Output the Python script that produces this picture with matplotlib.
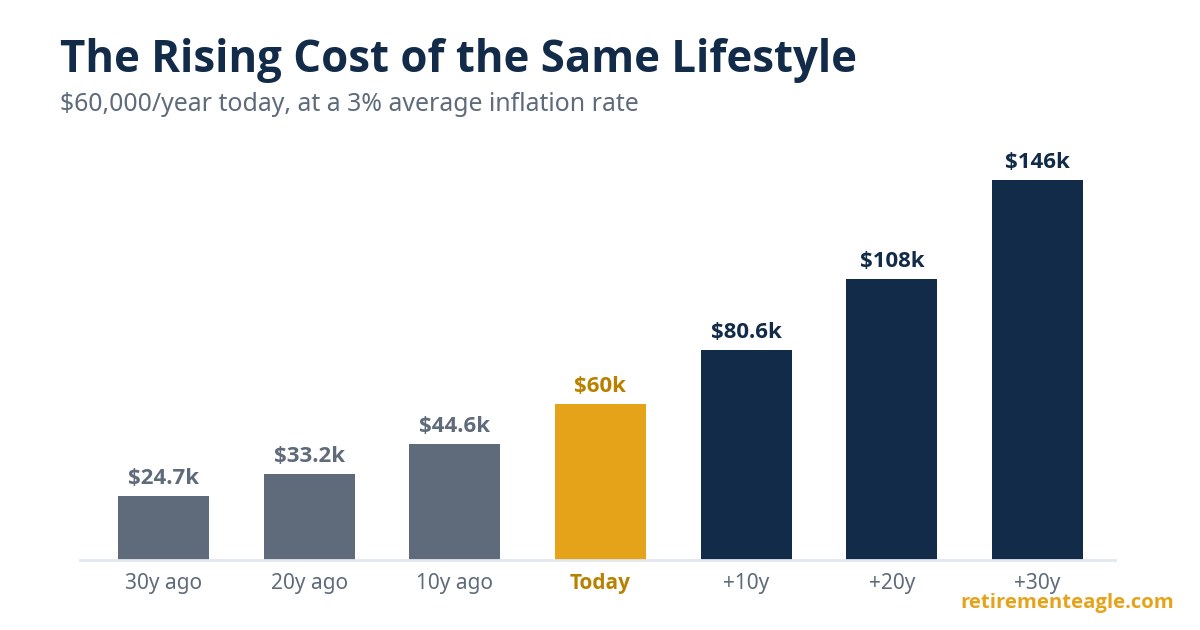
import matplotlib.pyplot as plt

plt.rcParams["font.family"] = ["Noto Sans", "DejaVu Sans"]

categories = ["30y ago", "20y ago", "10y ago", "Today", "+10y", "+20y", "+30y"]
values_k = [24.7, 33.2, 44.6, 60, 80.6, 108, 146]
value_labels = ["$24.7k", "$33.2k", "$44.6k", "$60k", "$80.6k", "$108k", "$146k"]

GRAY = "#5f6b7a"
GOLD = "#e5a31a"
GOLD_DARK = "#b88100"
NAVY = "#122b49"

# Noto Sans has no bold face here, Open Sans does
BOLD = ["Open Sans", "Noto Sans", "DejaVu Sans"]


def main():
    fig = plt.figure(figsize=(12, 6.3), dpi=100)
    ax = fig.add_axes([80 / 1200, 70 / 630, 1035 / 1200, 410 / 630])

    bar_colors = [GRAY, GRAY, GRAY, GOLD, NAVY, NAVY, NAVY]
    label_colors = [GRAY, GRAY, GRAY, GOLD_DARK, NAVY, NAVY, NAVY]
    x = range(len(categories))
    ax.bar(x, values_k, width=0.625, color=bar_colors, zorder=2)

    for i, (v, lab) in enumerate(zip(values_k, value_labels)):
        ax.annotate(lab, (i, v), xytext=(0, 5), textcoords="offset points",
                    ha="center", va="bottom", fontsize=16, fontweight="bold",
                    family=BOLD, color=label_colors[i])

    ax.set_xlim(-0.573, 6.532)
    ax.set_ylim(0, 157.5)
    ax.set_xticks(list(x))
    ax.set_xticklabels(categories, fontsize=15, color=GRAY)
    for i, t in enumerate(ax.get_xticklabels()):
        if categories[i] == "Today":
            t.set_color(GOLD_DARK)
            t.set_fontweight("bold")
            t.set_family(BOLD)
    ax.tick_params(axis="x", length=0, pad=9)
    ax.set_yticks([])
    for side in ["top", "right", "left"]:
        ax.spines[side].set_visible(False)
    ax.spines["bottom"].set_color("#e2e7f0")
    ax.spines["bottom"].set_linewidth(2)

    fig.text(60 / 1200, 1 - 72 / 630, "The Rising Cost of the Same Lifestyle",
             fontsize=31.5, fontweight="bold", family=BOLD, color=NAVY,
             ha="left", va="baseline")
    fig.text(60 / 1200, 1 - 111 / 630, "$60,000/year today, at a 3% average inflation rate",
             fontsize=17.9, color=GRAY, ha="left", va="baseline")
    fig.text(1174 / 1200, 1 - 608 / 630, "retirementeagle.com",
             fontsize=14.6, fontweight="bold", family=BOLD, color=GOLD,
             ha="right", va="baseline")

    fig.savefig("out.png", dpi=100)
    plt.close(fig)


if __name__ == "__main__":
    main()
